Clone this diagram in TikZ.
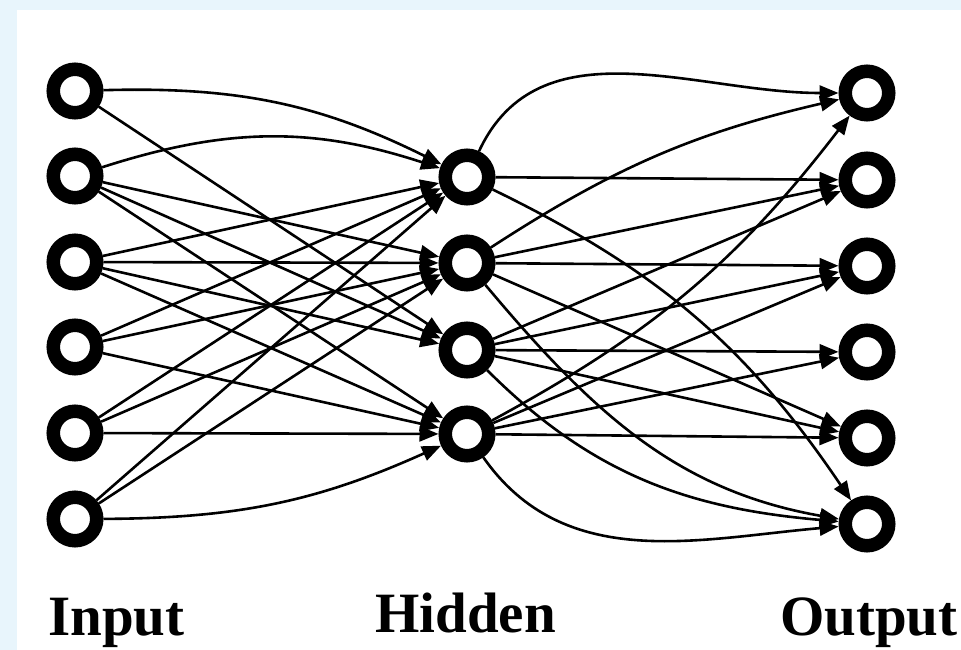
\documentclass[tikz,border=0pt]{standalone}
\usepackage{fontspec}
\setmainfont{Liberation Serif}
\usetikzlibrary{arrows.meta}
\definecolor{framebg}{RGB}{232,245,252}
\begin{document}
\begin{tikzpicture}[x=1pt,y=1pt,
  neuron/.style={circle,draw=black,line width=13.5pt,minimum size=43.5pt,inner sep=0pt,fill=white},
  wire/.style={line width=2.6pt,-{Triangle[length=19pt,width=15pt]}},
  layerlabel/.style={anchor=base west,inner sep=0pt,font=\bfseries\fontsize{57}{60}\selectfont}]

% frame
\fill[framebg] (0,0) rectangle (961,-650);
\fill[white] (17,-10) rectangle (961,-650);
\useasboundingbox (0,0) rectangle (961,-650);

% input layer
\node[neuron] (i1) at (75,-91)  {};
\node[neuron] (i2) at (75,-176) {};
\node[neuron] (i3) at (75,-262) {};
\node[neuron] (i4) at (75,-347) {};
\node[neuron] (i5) at (75,-433) {};
\node[neuron] (i6) at (75,-519) {};

% hidden layer
\node[neuron] (h1) at (467,-177) {};
\node[neuron] (h2) at (467,-263) {};
\node[neuron] (h3) at (467,-350) {};
\node[neuron] (h4) at (467,-434) {};

% output layer
\node[neuron] (o1) at (867,-93)  {};
\node[neuron] (o2) at (867,-180) {};
\node[neuron] (o3) at (867,-266) {};
\node[neuron] (o4) at (867,-352) {};
\node[neuron] (o5) at (867,-438) {};
\node[neuron] (o6) at (867,-524) {};

% input -> hidden
\draw[wire] (i1) to[bend left=14] (h1);
\draw[wire] (i1) -- (h3);
\draw[wire] (i2) to[bend left=18] (h1);
\draw[wire] (i2) -- (h2);
\draw[wire] (i2) -- (h3);
\draw[wire] (i2) -- (h4);
\draw[wire] (i3) -- (h1);
\draw[wire] (i3) -- (h2);
\draw[wire] (i3) -- (h3);
\draw[wire] (i3) -- (h4);
\draw[wire] (i4) -- (h1);
\draw[wire] (i4) -- (h2);
\draw[wire] (i4) -- (h4);
\draw[wire] (i5) -- (h1);
\draw[wire] (i5) -- (h2);
\draw[wire] (i5) -- (h4);
\draw[wire] (i6) -- (h1);
\draw[wire] (i6) -- (h2);
\draw[wire] (i6) to[bend right=12] (h4);

% hidden -> output
\draw[wire] (h1) to[out=65,in=180] (o1);
\draw[wire] (h1) -- (o2);
\draw[wire] (h1) to[bend left=15] (o6);
\draw[wire] (h2) to[bend left=10] (o1);
\draw[wire] (h2) -- (o2);
\draw[wire] (h2) -- (o3);
\draw[wire] (h2) -- (o5);
\draw[wire] (h2) to[out=-50,in=170] (o6);
\draw[wire] (h3) -- (o2);
\draw[wire] (h3) -- (o3);
\draw[wire] (h3) -- (o4);
\draw[wire] (h3) -- (o5);
\draw[wire] (h3) to[out=-45,in=175] (o6);
\draw[wire] (h4) to[bend right=12] (o1);
\draw[wire] (h4) -- (o3);
\draw[wire] (h4) -- (o4);
\draw[wire] (h4) -- (o5);
\draw[wire] (h4) to[out=-55,in=185] (o6);

% layer captions
\node[layerlabel] (lin)  at (48,-635)  {Input};
\node[layerlabel] (lhid) at (375,-632) {Hidden};
\node[layerlabel] (lout) at (780,-635) {Output};
\end{tikzpicture}
\end{document}
